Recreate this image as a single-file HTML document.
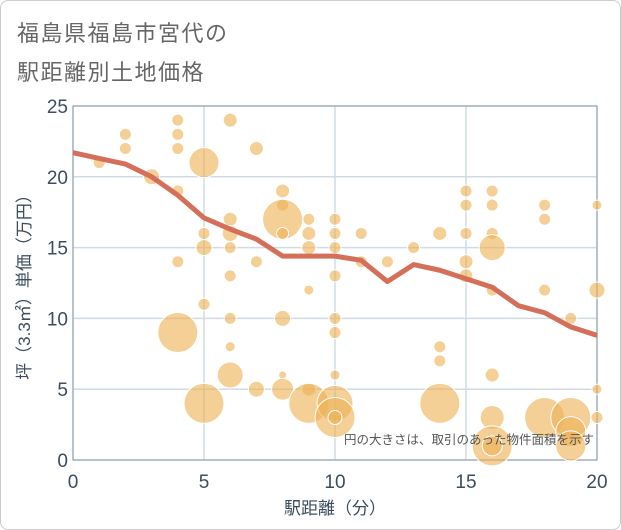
<!DOCTYPE html>
<html><head><meta charset="utf-8"><style>
body{margin:0;background:#fff;}
#wrap{position:relative;width:621px;height:530px;overflow:hidden;font-family:"Liberation Sans","Noto Sans CJK JP",sans-serif;}
#card{position:absolute;left:0;top:0;width:619px;height:528px;border:1px solid #ccc;border-radius:8px;}
.title{position:absolute;left:17px;font-size:22px;color:#666;letter-spacing:1.5px;}
</style></head><body>
<div id="wrap">
<div id="card"></div>
<div class="title" style="top:16px">福島県福島市宮代の</div>
<div class="title" style="top:55px">駅距離別土地価格</div>
<svg id="svg" width="621" height="530" style="position:absolute;left:0;top:0"></svg>
</div>
<script>
const xTicks=[0,5,10,15,20];
const yTicks=[0,5,10,15,20,25];
const lineX=[0,1,2,3,4,5,6,7,8,9,10,11,12,13,14,15,16,17,18,19,20];
const lineY=[21.7,21.3,20.9,20,18.7,17.1,16.3,15.6,14.4,14.4,14.4,14.1,12.6,13.8,13.4,12.8,12.2,10.9,10.4,9.4,8.8];
const bubX=[1,2,2,3,4,4,4,4,4,4,5,5,5,5,5,6,6,6,6,6,6,6,6,7,7,7,8,8,8,8,8,8,8,9,9,9,9,9,9,10,10,10,10,10,10,10,10,10,10,11,11,12,13,14,14,14,14,15,15,15,15,15,16,16,16,16,16,16,16,16,16,18,18,18,18,19,19,19,19,20,20,20,20];
const bubY=[21,23,22,20,24,23,22,19,14,9,21,16,15,11,4,24,17,16,15,13,10,8,6,22,14,5,19,18,17,16,10,6,5,17,16,15,12,5,4,17,16,15,13,10,9,6,4,3,3,16,14,14,15,16,8,7,4,19,18,16,14,13,19,18,16,15,12,6,3,1,1,18,17,12,3,10,3,2,1,18,12,5,3];
const bubR=[6,6,6,8,6,6,6,6,6,20,15,6,8,6,20,7,7,8,6,6,6,5,13,7,6,8,7,6,20,6,8,4,11,6,7,7,5,7,20,6,6,6,6,6,6,5,18,20,7,6,6,6,6,7,6,6,20,6,6,6,7,7,6,6,6,13,6,7,12,20,10,6,6,6,20,6,20,15,15,5,8,5,6];
const L=73,R=597,T=106,B=460;
const sx=v=>L+(v-0)/(20-0)*(R-L);
const sy=v=>B-(v-0)/(25-0)*(B-T);
const svg=document.getElementById('svg');
const NS='http://www.w3.org/2000/svg';
function mk(tag,attrs){const e=document.createElementNS(NS,tag);for(const k in attrs)e.setAttribute(k,attrs[k]);svg.appendChild(e);return e;}
xTicks.forEach(t=>{
 const g=mk('line',{x1:sx(t),x2:sx(t),y1:T,y2:B,stroke:'#d0dbe6','stroke-width':1.5});
 
 
 const tx=mk('text',{x:sx(t),y:B+28,'text-anchor':'middle','font-size':19,fill:'#3d4d5f'});
 tx.textContent=t;
 
 
});
yTicks.forEach(t=>{
 const g=mk('line',{x1:L,x2:R,y1:sy(t),y2:sy(t),stroke:'#d0dbe6','stroke-width':1.5});
 
 
 const tx=mk('text',{x:L-5,y:sy(t)+7,'text-anchor':'end','font-size':19,fill:'#3d4d5f'});
 tx.textContent=t;
 
 
});
const fr=mk('rect',{x:L,y:T,width:R-L,height:B-T,fill:'none',stroke:'#8a96a3','stroke-width':1});


bubX.forEach((x,i)=>{
 const c=mk('circle',{cx:sx(x),cy:sy(bubY[i]),r:bubR[i],fill:'#eeb256','fill-opacity':0.62,stroke:'#fff','stroke-width':1});
 
 
});
const pl=mk('polyline',{points:lineX.map((x,i)=>sx(x)+','+sy(lineY[i])).join(' '),fill:'none',stroke:'#d4705a','stroke-width':5,'stroke-linejoin':'round'});


const n=mk('text',{x:R-3,y:444,'text-anchor':'end','font-size':12.5,fill:'#555'});
n.textContent='円の大きさは、取引のあった物件面積を示す';


const xt=mk('text',{x:(L+R)/2,y:514,'text-anchor':'middle','font-size':17,fill:'#3d4d5f'});
xt.textContent='駅距離（分）';


const yt=mk('text',{x:0,y:0,'text-anchor':'middle','font-size':17,fill:'#3d4d5f',transform:'translate(30,'+((T+B)/2)+') rotate(-90)'});
yt.textContent='坪（3.3㎡）単価（万円）';


</script>
</body></html>
